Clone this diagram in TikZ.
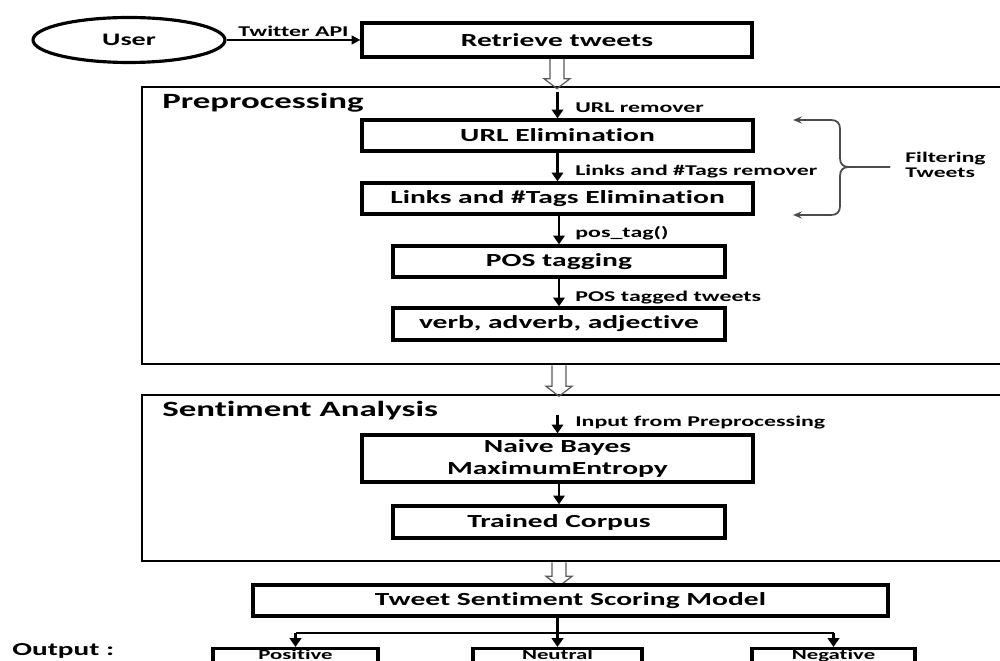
\documentclass[tikz,border=0pt]{standalone}
\usepackage{fontspec}
\setmainfont{Carlito}[FakeStretch=1.6,Ligatures=NoCommon]
\usetikzlibrary{shapes.geometric,arrows.meta}
\newcommand{\hollowdown}[2]{\draw[hol] ([xshift=-0.14cm]#1) -- ++(0,#2-10) -- ++(-6,0) -- ++(13,10) -- ++(13,-10) -- ++(-6,0) -- ++(0,-#2+10);}
\begin{document}
\begin{tikzpicture}[x=0.02cm,y=-0.02cm,
  box/.style={draw,line width=1.9pt,inner sep=0pt,font=\bfseries\fontsize{10.5}{12.5}\selectfont,align=center},
  outer/.style={draw,line width=1.5pt,inner sep=0pt},
  title/.style={font=\bfseries\fontsize{12.4}{14}\selectfont,anchor=base west,inner sep=0pt},
  lbl/.style={font=\bfseries\fontsize{8.5}{10}\selectfont,anchor=base west,inner sep=0pt},
  outbox/.style={draw,line width=1.9pt,inner xsep=0pt,inner ysep=0.6pt,anchor=north,font=\bfseries\fontsize{8.1}{10}\selectfont,text height=5.3pt,text depth=40pt},
  arr/.style={line width=1.6pt,-{Triangle[length=5pt,width=6.5pt]}},
  plain/.style={line width=1.6pt},
  thinarr/.style={line width=1pt,-{Triangle[length=5pt,width=5pt]}},
  hol/.style={draw=gray!70!black,line width=0.7pt,line join=miter},
  brace/.style={draw=gray!60!black,line width=1pt,-{Stealth[length=5pt,width=4pt]}}
]
\useasboundingbox (0,0) rectangle (1000,661);

% top
\node[draw,ellipse,line width=1.8pt,minimum width=3.84cm,minimum height=0.9cm,inner sep=0pt,font=\bfseries\fontsize{10}{12}\selectfont] (user) at (129,40) {User};
\node[box,minimum width=7.8cm,minimum height=0.68cm] (ret) at (557,40) {Retrieve tweets};
\draw[thinarr] (user.east) -- (user.east -| ret.west) node[midway,above,inner sep=1.5pt,font=\bfseries\fontsize{8.5}{10}\selectfont] {Twitter API};

% preprocessing
\node[outer,minimum width=17.36cm,minimum height=5.54cm] (pre) at (576,225.5) {};
\node[title] (pretitle) at (162,109) {Preprocessing};
\node[box,minimum width=7.82cm,minimum height=0.62cm] (url) at (557.5,135.5) {URL Elimination};
\node[box,minimum width=7.82cm,minimum height=0.62cm] (links) at (557.5,198.5) {Links and \#Tags Elimination};
\node[box,minimum width=6.64cm,minimum height=0.62cm] (postag) at (559,261.5) {POS tagging};
\node[box,minimum width=6.64cm,minimum height=0.64cm] (verb) at (559,324) {verb, adverb, adjective};

\coordinate (a0) at (557.5,92);
\draw[arr] (a0) -- (url.north);
\node[lbl] (l1) at (575,113) {URL remover};
\draw[arr] (url.south) -- (links.north);
\node[lbl] (l2) at (575,176) {Links and \#Tags remover};
\draw[arr] (links.south -| postag.north) -- (postag.north);
\node[lbl] (l3) at (575,238) {pos\_tag()};
\draw[arr] (postag.south) -- (verb.north);
\node[lbl] (l4) at (575,302) {POS tagged tweets};

% brace
\coordinate (bt) at (793,120);
\coordinate (bb) at (793,215);
\coordinate (bm) at (890,167);
\draw[brace] (bm) -- (849,167) .. controls (843,167) and (840,164) .. (840,158) -- (840,129) .. controls (840,123) and (837,120) .. (831,120) -- (bt);
\draw[brace] (bm) -- (849,167) .. controls (843,167) and (840,170) .. (840,176) -- (840,206) .. controls (840,212) and (837,215) .. (831,215) -- (bb);
\node[font=\bfseries\fontsize{8.4}{8.6}\selectfont,align=left,anchor=west,inner sep=0pt] (filt) at (905,165) {Filtering\\Tweets};

% sentiment
\node[outer,minimum width=17.36cm,minimum height=3.32cm] (sent) at (576,478) {};
\node[title] (senttitle) at (162,417) {Sentiment Analysis};
\node[box,minimum width=7.82cm,minimum height=0.94cm] (nb) at (557.5,458.5) {Naive Bayes\\MaximumEntropy};
\node[box,minimum width=6.64cm,minimum height=0.64cm] (tc) at (559,522) {Trained Corpus};
\coordinate (a1) at (557.5,415);
\draw[arr] (a1) -- (nb.north);
\node[lbl] (l5) at (575,427) {Input from Preprocessing};
\draw[arr] (nb.south -| tc.north) -- (tc.north);

% hollow arrows
\coordinate (h1) at (ret.south);
\coordinate (h2) at (verb.south |- pre.south);
\coordinate (h3) at (tc.south |- sent.south);
\hollowdown{h1}{30}
\hollowdown{h2}{31}
\hollowdown{h3}{24}

% scoring and outputs
\node[box,minimum width=12.7cm,minimum height=0.62cm] (score) at (570.5,600.5) {Tweet Sentiment Scoring Model};
\node[outbox,minimum width=3.3cm] (posi) at (295.5,647) {Positive};
\node[outbox,minimum width=3.38cm] (neu) at (557.5,647) {Neutral};
\node[outbox,minimum width=3.26cm] (neg) at (833.5,647) {Negative};
\node[font=\bfseries\fontsize{10.4}{12}\selectfont,anchor=base west,inner sep=0pt] (outlbl) at (12,655) {Output :};
\coordinate (j) at (557.5,633);
\draw[arr] (score.south -| neu.north) -- (neu.north);
\draw[plain] (posi.north |- j) -- (neg.north |- j);
\draw[arr] (posi.north |- j) -- (posi.north);
\draw[arr] (neg.north |- j) -- (neg.north);
\end{tikzpicture}
\end{document}
